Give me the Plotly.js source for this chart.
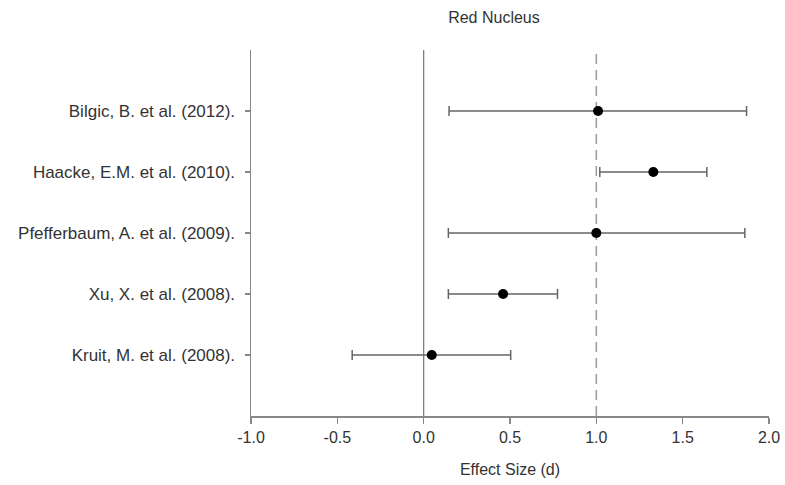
<!DOCTYPE html>
<html>
<head>
<meta charset="utf-8">
<script src="https://cdn.plot.ly/plotly-3.0.1.min.js"></script>
<style>html,body{margin:0;padding:0;background:#fff;}#chart{width:785px;height:485px;}</style>
</head>
<body>
<div id="chart"></div>
<script>
// Data
const studies = ["Kruit, M. et al. (2008).", "Xu, X. et al. (2008).", "Pfefferbaum, A. et al. (2009).", "Haacke, E.M. et al. (2010).", "Bilgic, B. et al. (2012)."];
const effect = [0.047, 0.46, 1.00, 1.33, 1.01];
const ciLow = [-0.414, 0.143, 0.143, 1.02, 0.147];
const ciHigh = [0.504, 0.775, 1.86, 1.64, 1.87];
const xTicks = [-1.0, -0.5, 0.0, 0.5, 1.0, 1.5, 2.0];
const xTickText = ["-1.0", "-0.5", "0.0", "0.5", "1.0", "1.5", "2.0"];

const yPos = studies.map((_, i) => i);
const errPlus = effect.map((v, i) => ciHigh[i] - v);
const errMinus = effect.map((v, i) => v - ciLow[i]);

const trace = {
  type: 'scatter',
  mode: 'markers',
  x: effect,
  y: yPos,
  marker: {color: '#000', size: 10},
  error_x: {
    type: 'data', symmetric: false,
    array: errPlus, arrayminus: errMinus,
    color: '#666', thickness: 1.5, width: 5
  },
  hoverinfo: 'none',
  cliponaxis: false
};

const layout = {
  width: 785, height: 485,
  margin: {l: 251, r: 16, t: 50, b: 69},
  paper_bgcolor: '#fff', plot_bgcolor: '#fff',
  font: {family: 'Liberation Sans, Arial, sans-serif', color: '#333'},
  showlegend: false,
  title: {
    text: 'Red Nucleus',
    font: {size: 16, color: '#333'},
    x: 0.469, xref: 'paper', xanchor: 'center',
    y: 1 - 17/485, yref: 'container', yanchor: 'middle'
  },
  xaxis: {
    range: [-1, 2],
    tickmode: 'array', tickvals: xTicks, ticktext: xTickText,
    showline: true, linecolor: '#888', linewidth: 1.5,
    ticks: 'outside', ticklen: 6, tickcolor: '#888', tickwidth: 1.5,
    showgrid: false, zeroline: false,
    tickfont: {size: 16, color: '#333'},
    title: {text: 'Effect Size (d)', font: {size: 16, color: '#333'}, standoff: 19},
    fixedrange: true
  },
  yaxis: {
    range: [-1, 5],
    tickmode: 'array', tickvals: yPos, ticktext: studies,
    showline: true, linecolor: '#888', linewidth: 1.5,
    ticks: 'outside', ticklen: 5, tickcolor: '#888', tickwidth: 1.5,
    showgrid: false, zeroline: false,
    tickfont: {size: 17, color: '#333'},
    ticklabelstandoff: 6,
    fixedrange: true
  },
  shapes: [
    {type: 'line', xref: 'x', yref: 'paper', x0: 0, x1: 0, y0: 0, y1: 1,
     line: {color: '#777', width: 1.2}, layer: 'below'},
    {type: 'line', xref: 'x', yref: 'paper', x0: 1, x1: 1, y0: 0, y1: 1,
     line: {color: '#999', width: 1.5, dash: '10px,6px'}, layer: 'below'}
  ]
};

Plotly.newPlot('chart', [trace], layout, {displayModeBar: false, staticPlot: true});
</script>
</body>
</html>
